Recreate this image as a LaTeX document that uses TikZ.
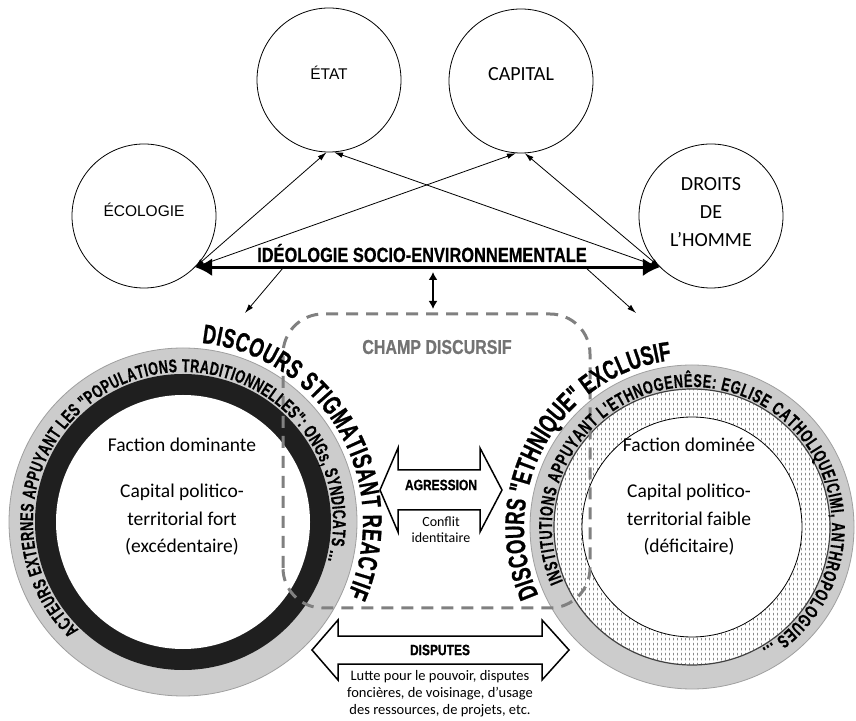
\documentclass[tikz,border=0pt]{standalone}
\usepackage{fontspec}
\setmainfont{Carlito}
\newfontfamily\arialf{Liberation Sans}
\newfontfamily\condA{Liberation Sans}[FakeStretch=0.68,FakeBold=0.8]
\newfontfamily\condB{Liberation Sans}[FakeStretch=0.80,FakeBold=0.6]
\newfontfamily\condC{Liberation Sans}[FakeStretch=0.68,FakeBold=0.4]
\usetikzlibrary{arrows.meta,decorations.text,patterns}
\newcommand\bandfont{\condC\bfseries\fontsize{18.5}{18.5}\selectfont}
\newcommand\bigcurvefont{\condA\bfseries\fontsize{27}{27}\selectfont}
\pgfdeclarepatternformonly{vdashes}{\pgfqpoint{0pt}{0pt}}{\pgfqpoint{4pt}{5pt}}{\pgfqpoint{4pt}{5pt}}{%
  \pgfsetlinewidth{0.7pt}\pgfpathmoveto{\pgfqpoint{2pt}{0.8pt}}\pgfpathlineto{\pgfqpoint{2pt}{3.8pt}}\pgfusepath{stroke}}
\tikzset{
  circ/.style={circle, draw, line width=0.8pt, minimum size=144pt, inner sep=0pt},
  arialtxt/.style={font=\arialf\fontsize{15.5}{18}\selectfont, inner sep=0pt},
  caltxt/.style={font=\fontsize{20}{28}\selectfont, inner sep=0pt, align=center},
  thinarrow/.style={line width=0.8pt, {Latex[length=9pt,width=5.5pt]}-{Latex[length=9pt,width=5.5pt]}},
  downarrow/.style={line width=0.8pt, -{Latex[length=9pt,width=5.5pt]}},
  mainarrow/.style={line width=3pt, {Latex[length=17pt,width=18pt]}-{Latex[length=17pt,width=18pt]}},
  vertarrow/.style={line width=2.5pt, {Latex[length=8pt,width=9pt]}-{Latex[length=8pt,width=9pt]}},
  condtitle/.style={font=\condB\bfseries\fontsize{20.5}{22}\selectfont, inner sep=0pt},
  champtxt/.style={font=\condB\bfseries\fontsize{20}{22}\selectfont, text=black!55, inner sep=0pt},
  arrowlabel/.style={font=\condB\bfseries\fontsize{15}{17}\selectfont, inner sep=0pt},
  smalltxt/.style={font=\fontsize{14}{16}\selectfont, align=center, inner sep=0pt},
  disptxt/.style={font=\fontsize{14.5}{17}\selectfont, align=center, inner sep=0pt},
  factxt/.style={font=\fontsize{19.5}{27.5}\selectfont, align=center, inner sep=0pt},
  blockarrow/.style={draw=black, fill=white, line width=1.5pt, line join=miter},
  champ/.style={draw=black!50, line width=3pt, dash pattern=on 12pt off 8pt, rounded corners=40pt},
  bandtext/.style={decorate, decoration={text along path, text align=fit to path, text={|\bandfont|#1}}},
  bigtext/.style={decorate, decoration={text along path, text align=fit to path, text={|\bigcurvefont|#1}}}
}
\begin{document}
\begin{tikzpicture}[x=1pt,y=1pt]
\useasboundingbox (0,0) rectangle (856,720);
\fill[white] (0,0) rectangle (856,720);

% ---- top circles
\node[circ] (ecologie) at (144,504) {};
\node[circ] (etat) at (329,640) {};
\node[circ] (capital) at (521,639) {};
\node[circ] (droits) at (711,504) {};
\node[arialtxt] (ecologieT) at (144,510) {ÉCOLOGIE};
\node[arialtxt] (etatT) at (329,647) {ÉTAT};
\node[caltxt] (capitalT) at (521,646) {CAPITAL};
\node[caltxt] (droitsT) at (711,508) {DROITS\\DE\\L’HOMME};

% ---- connectors
\draw[thinarrow] (ecologie.-45) -- (etat.268);
\draw[thinarrow] (ecologie.-45) -- (capital.266);
\draw[thinarrow] (droits.225) -- (etat.274);
\draw[thinarrow] (droits.225) -- (capital.273);
\draw[mainarrow] (ecologie.-45) -- (droits.225);
\node[condtitle] (ideo) at (422,467) {IDÉOLOGIE SOCIO-ENVIRONNEMENTALE};

\coordinate (dl0) at (283,452); \coordinate (dl1) at (245,407);
\coordinate (dr0) at (586,452); \coordinate (dr1) at (636,407);
\coordinate (v0) at (433,448); \coordinate (v1) at (433,411);
\draw[downarrow] (dl0) -- (dl1);
\draw[downarrow] (dr0) -- (dr1);
\draw[vertarrow] (v0) -- (v1);

% ---- rings
\coordinate (Lc) at (183,198);
\coordinate (Rc) at (692,193);
\filldraw[fill=gray!40, draw=gray!75, line width=0.8pt] (Lc) circle[radius=174];
\fill[black!88] (Lc) circle[radius=148];
\fill[white] (Lc) circle[radius=127];

\filldraw[fill=gray!40, draw=gray!75, line width=0.8pt] (Rc) circle[radius=162];
\filldraw[fill=white, draw=black!75, line width=1.2pt] (Rc) circle[radius=138];
\fill[pattern=vdashes, pattern color=black!70] (Rc) circle[radius=138];
\filldraw[fill=white, draw=black, line width=0.8pt] (Rc) circle[radius=110];

\node[factxt] (lfac) at (182,275) {Faction dominante};
\node[factxt] (lcap) at (182,200) {Capital politico-\\territorial fort\\(excédentaire)};
\node[factxt] (rfac) at (689,275) {Faction dominée};
\node[factxt] (rcap) at (689,200) {Capital politico-\\territorial faible\\(déficitaire)};

% ---- champ discursif
\draw[champ] (283,112) rectangle (590,406);
\node[champtxt] (champ) at (437,373) {CHAMP DISCURSIF};

% ---- block arrows
\draw[blockarrow] (380,230) -- (398,272) -- (398,250) -- (480,250) -- (480,272) -- (502,230)
  -- (480,188) -- (480,210) -- (398,210) -- (398,188) -- cycle;
\node[arrowlabel] (agr) at (441,235) {AGRESSION};
\node[smalltxt] (conflit) at (441,190) {Conflit\\identitaire};

\draw[blockarrow] (312,70) -- (338,100) -- (338,84) -- (542,84) -- (542,100) -- (569,70)
  -- (542,40) -- (542,56) -- (338,56) -- (338,40) -- cycle;
\node[arrowlabel] (disp) at (440,70) {DISPUTES};
\node[disptxt] (lutte) at (440,26) {Lutte pour le pouvoir, disputes\\foncières, de voisinage, d’usage\\des ressources, de projets, etc.};

% ---- curved texts
\path[shift={(Lc)}, bandtext={ACTEURS EXTERNES APPUYANT LES "POPULATIONS TRADITIONNELLES": ONGs, SYNDICATS ...}]
  (226:150) arc[start angle=226, end angle=-15, radius=150];
\path[shift={(Lc)}, bigtext={DISCOURS STIGMATISANT REACTIF}]
  (84:180) arc[start angle=84, end angle=-24, radius=180];
\path[shift={(Rc)}, bandtext={INSTITUTIONS APPUYANT L'ETHNOGENÊSE: EGLISE CATHOLIQUE/CIMI, ANTHROPOLOGUES ...}]
  (203:140) arc[start angle=203, end angle=-60, radius=140];
\path[shift={(Rc)}, bigtext={DISCOURS "ETHNIQUE" EXCLUSIF}]
  (204:168) arc[start angle=204, end angle=97, radius=168];
\end{tikzpicture}
\end{document}
